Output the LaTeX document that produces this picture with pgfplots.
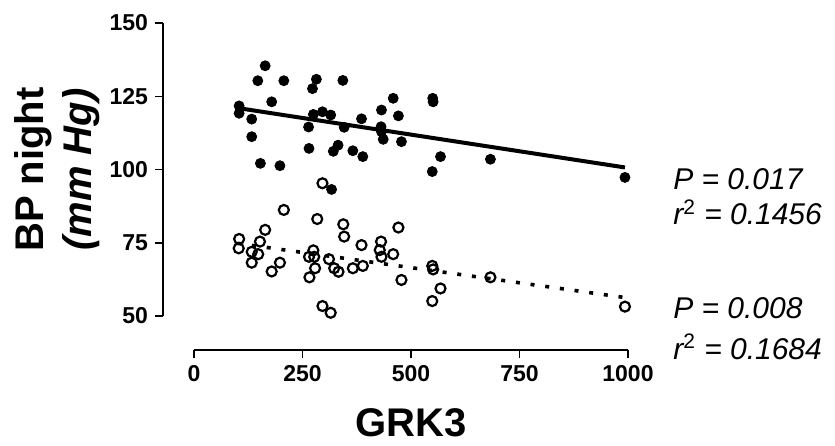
\documentclass[border=0pt]{standalone}
\usepackage{fontspec}
\setmainfont{Liberation Sans}
\usepackage{pgfplots}
\pgfplotsset{compat=1.18}

% GRK3 vs night blood pressure
\pgfplotstableread{
x y
164 135.4
147 130.3
207 130.3
179 123.1
104 121.7
104 119.2
133 117.2
133 111.2
153 102.1
198 101.3
282 130.8
273 127.6
343 130.4
264 114.5
265 107.2
275 118.8
296 119.7
315 118.6
346 114.4
321 106.2
332 108.3
366 106.4
389 104.4
386 117.3
432 120.3
431 114.6
432 112.9
436 110.3
459 124.3
550 124.3
551 123.1
471 118.3
478 109.5
568 104.4
683 103.5
549 99.3
993 97.3
317 93.2
}\systolic

\pgfplotstableread{
x y
296 95.3
207 86.2
284 83.1
344 81.3
346 77.1
164 79.4
152 75.4
104 76.3
103 73.1
133 71.9
148 71.1
133 68.2
179 65.2
198 68.2
386 74.2
275 72.4
265 70.2
277 70.2
279 66.3
266 63.2
311 69.4
323 66.3
333 65.1
366 66.3
389 67.1
296 53.4
315 51.1
431 75.4
428 72.5
432 70.2
459 71.1
471 80.2
478 62.3
549 67.1
551 65.9
568 59.4
549 55.1
683 63.2
993 53.2
}\diastolic

\begin{document}
\begin{tikzpicture}
\path[use as bounding box] (-97pt,-64.5pt) rectangle (320.5pt,158pt);
\begin{axis}[
    scale only axis,
    width=217pt, height=146.5pt,
    at={(0,0)}, anchor=south west,
    xmin=0, xmax=1000, ymin=50, ymax=150,
    enlargelimits=false,
    axis lines=left,
    axis line style={-, line width=0.75pt},
    axis x line shift=17pt,
    axis y line shift=15.5pt,
    xtick={0,250,...,1000},
    ytick={50,75,...,150},
    tick align=outside,
    major tick length=4pt,
    tick style={black, line width=0.75pt},
    tick label style={font=\fontsize{11.5}{13}\selectfont\bfseries},
    /pgf/number format/assume math mode=true,
    /pgf/number format/1000 sep={},
    xlabel={GRK3},
    xlabel style={font=\fontsize{20}{24}\selectfont\bfseries,
        at={(axis description cs:0.5,-0.365)}, anchor=center},
    ylabel={BP night\\\textit{(mm Hg)}},
    ylabel style={font=\fontsize{20}{24}\selectfont\bfseries, align=center,
        at={(axis description cs:-0.316,0.5)}, anchor=center},
    clip=false,
]
\addplot[only marks, mark=*, mark size=2.5pt, mark options={fill=black, draw=black}]
    table[x=x, y=y] {\systolic};
\addplot[only marks, mark=o, mark size=2.5pt, mark options={draw=black, line width=1.1pt}]
    table[x=x, y=y] {\diastolic};
\addplot[black, line width=2pt] coordinates {(100,121.0) (993,100.7)};
\addplot[black, line width=1.8pt, dash pattern=on 2pt off 5.4pt]
    coordinates {(100,74.8) (993,56.3)};
\node[anchor=base west, font=\fontsize{15}{18}\selectfont\itshape] at (axis cs:1088,93.3) {P = 0.017};
\node[anchor=base west, font=\fontsize{15}{18}\selectfont\itshape] at (axis cs:1088,81.1) {r\textsuperscript{\upshape 2} = 0.1456};
\node[anchor=base west, font=\fontsize{15}{18}\selectfont\itshape] at (axis cs:1088,49.0) {P = 0.008};
\node[anchor=base west, font=\fontsize{15}{18}\selectfont\itshape] at (axis cs:1088,35.3) {r\textsuperscript{\upshape 2} = 0.1684};
\end{axis}
\end{tikzpicture}
\end{document}
